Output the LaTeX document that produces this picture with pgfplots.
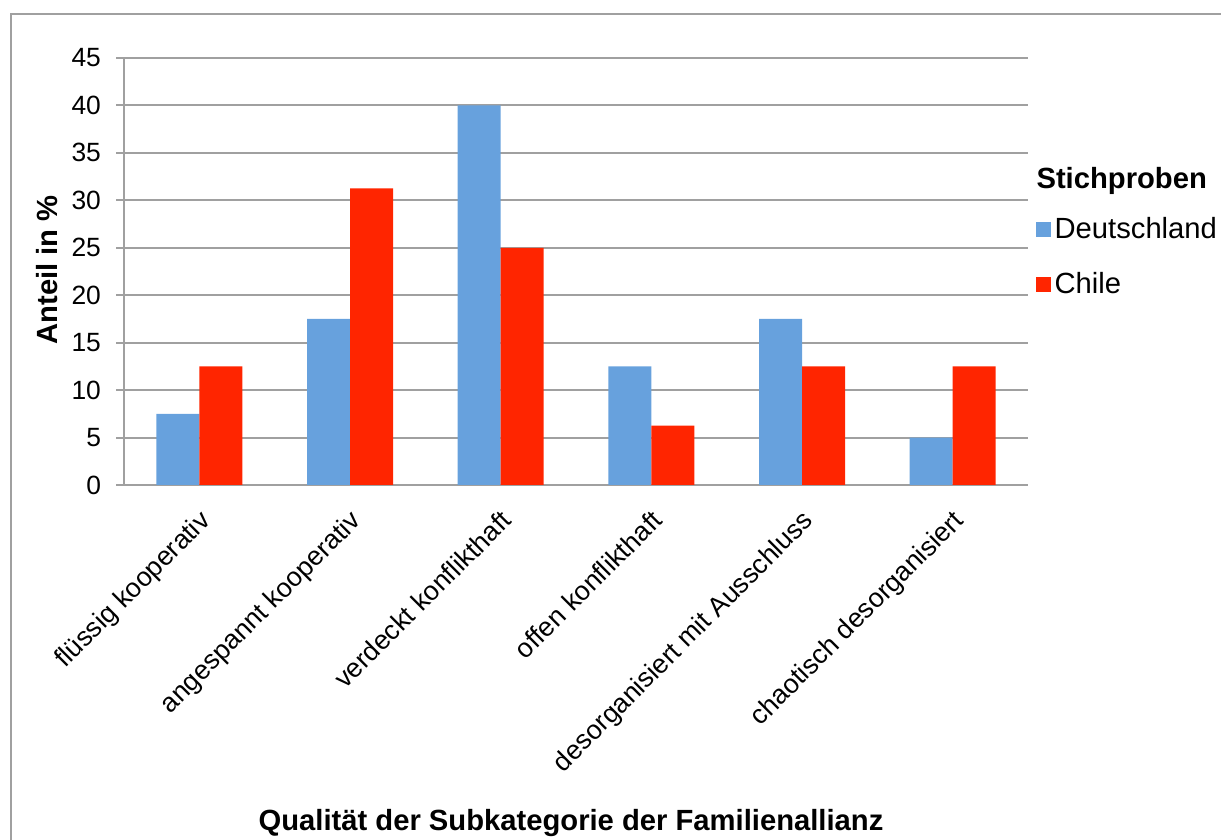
\documentclass[border=0pt]{standalone}
\usepackage{fontspec}
\setmainfont{Liberation Sans}
\usepackage{pgfplots}
\pgfplotsset{compat=1.18}
\definecolor{deblue}{RGB}{103,161,221}
\definecolor{clred}{RGB}{255,37,0}
\definecolor{gridgray}{RGB}{160,160,160}
\begin{document}
\begin{tikzpicture}
\path[use as bounding box] (0pt,0pt) rectangle (610.5pt,420pt);
\draw[gridgray, line width=1pt] (5.5pt,0pt) -- (5.5pt,413pt) -- (610.5pt,413pt);
\begin{axis}[
  at={(62pt,177.5pt)}, anchor=south west,
  scale only axis, width=452pt, height=213.5pt,
  ymin=0, ymax=45, ytick={0,5,...,45},
  xmin=-0.5, xmax=5.5,
  xtick={0,...,5},
  xticklabels={flüssig kooperativ, angespannt kooperativ, verdeckt konflikthaft, offen konflikthaft, desorganisiert mit Ausschluss, chaotisch desorganisiert},
  x tick style={draw=none},
  extra x ticks={-0.5,0.5,...,5.5},
  extra x tick labels={},
  extra x tick style={major tick length=4pt, tick style={gridgray, line width=1pt, draw=gridgray}},
  axis x line*=bottom, axis y line*=left,
  axis line style={gridgray, line width=1pt, -},
  y tick style={gridgray, line width=1pt},
  tick align=outside, major tick length=4pt,
  ymajorgrids, grid style={gridgray, line width=1pt},
  /pgf/number format/assume math mode=true,
  yticklabel style={font=\fontsize{13.2}{15}\selectfont, xshift=-4pt},
  xticklabel style={font=\fontsize{13.4}{16}\selectfont, rotate=45, anchor=north east, xshift=-2.5pt, yshift=-1.5pt},
  ybar=0pt, bar width=21.5pt,
  legend style={at={(axis description cs:1.008,0.638)}, anchor=north west, draw=none, fill=none,
    font=\fontsize{14.6}{17.5}\selectfont, row sep=11.5pt, inner sep=0pt},
  legend cell align=left,
  legend image code/.code={\fill[#1] (0pt,-3.75pt) rectangle (7.5pt,3.75pt);},
  clip=false,
]
\addplot[fill=deblue, draw=none] coordinates {(0,7.5) (1,17.5) (2,40) (3,12.5) (4,17.5) (5,5)};
\addplot[fill=clred, draw=none] coordinates {(0,12.5) (1,31.25) (2,25) (3,6.25) (4,12.5) (5,12.5)};
\legend{Deutschland, Chile}
\node[anchor=west, inner sep=0pt, font=\fontsize{14.6}{17.5}\selectfont\bfseries] at (axis description cs:1.009,0.712) {Stichproben};
\end{axis}
\node[rotate=90, font=\fontsize{14.6}{17.5}\selectfont\bfseries] at (23.5pt,285pt) {Anteil in \%};
\node[font=\fontsize{14.6}{17.5}\selectfont\bfseries] at (285.5pt,8.5pt) {Qualität der Subkategorie der Familienallianz};
\end{tikzpicture}
\end{document}
